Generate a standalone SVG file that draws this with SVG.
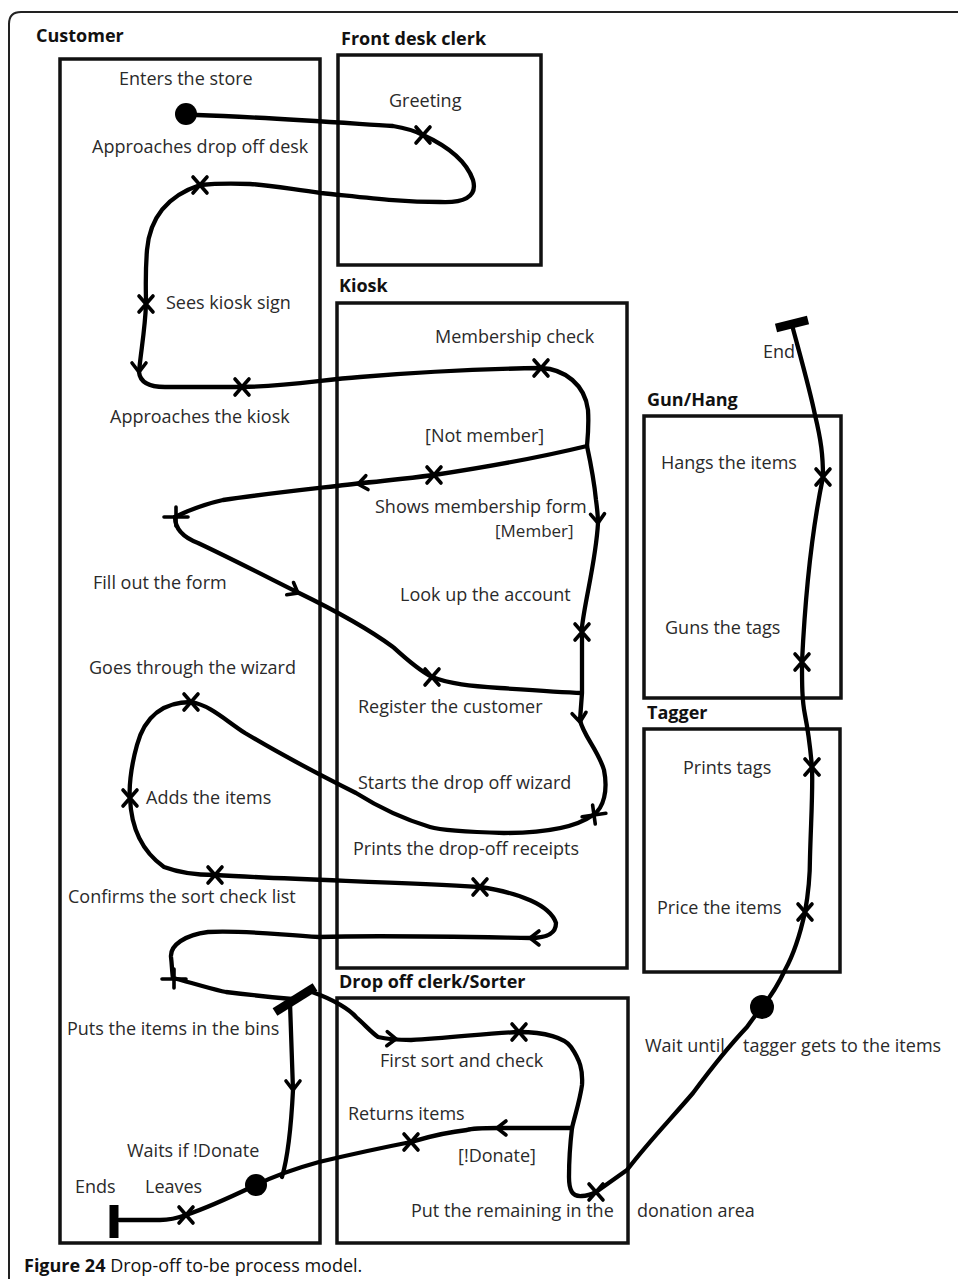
<svg xmlns="http://www.w3.org/2000/svg" xmlns:xlink="http://www.w3.org/1999/xlink" width="958" height="1279" viewBox="0 0 958 1279">
<style>
  .lane { fill: none; stroke: #111; stroke-width: 3.5; }
  .lt { font-family: "Open Sans", "Noto Sans", "DejaVu Sans", sans-serif; font-size: 18px; font-weight: bold; fill: #111; }
  .t { font-family: "Open Sans", "Noto Sans", "DejaVu Sans", sans-serif; font-size: 18px; fill: #2a2a2a; }
  .tg { font-family: "Open Sans", "Noto Sans", "DejaVu Sans", sans-serif; font-size: 17px; fill: #2a2a2a; }
  .flow { fill: none; stroke: #000; stroke-width: 4.3; stroke-linecap: round; stroke-linejoin: round; }
  .mark { fill: none; stroke: #000; stroke-width: 3.6; stroke-linecap: round; }
  .bar { stroke: #000; stroke-width: 9; stroke-linecap: butt; }
  .dot { fill: #000; }
  .cap { font-family: "Open Sans", "Noto Sans", "DejaVu Sans", sans-serif; font-size: 18px; fill: #111; }
</style>
<defs>
  <path id="x" class="mark" d="M-7,-8 L7,8 M-7,8 L7,-8"/>
  <path id="plus" class="mark" d="M-12,0 L12,0 M0,-10 L0,9"/>
  <path id="chev" class="mark" d="M-7,-9 L0,0 L7,-9"/>
</defs>
<rect width="958" height="1279" fill="#fff"/>
<path d="M9,1279 L9,24 Q9,12 21,12 L960,12" fill="none" stroke="#222" stroke-width="2"/>

<!-- lanes -->
<g id="lane-customer"><rect class="lane" x="60" y="59" width="260" height="1184"/><text class="lt" x="36" y="42">Customer</text></g>
<g id="lane-frontdesk"><rect class="lane" x="338" y="55" width="203" height="210"/><text class="lt" x="341" y="45">Front desk clerk</text></g>
<g id="lane-kiosk"><rect class="lane" x="337" y="303" width="290" height="665"/><text class="lt" x="339" y="292">Kiosk</text></g>
<g id="lane-gunhang"><rect class="lane" x="644" y="416" width="197" height="282"/><text class="lt" x="647" y="406">Gun/Hang</text></g>
<g id="lane-tagger"><rect class="lane" x="644" y="729" width="196" height="243"/><text class="lt" x="647" y="719">Tagger</text></g>
<g id="lane-dropoff"><rect class="lane" x="337" y="998" width="291" height="245"/><text class="lt" x="339" y="988">Drop off clerk/Sorter</text></g>

<!-- connectors -->
<g id="connectors">
  <path class="flow" d="M197,115 C260,117 330,122 393,126 C405,128 415,131 423,135 C445,145 466,160 473,180 C478,198 462,203 440,202 C400,202 370,198 321,193 C290,189 270,185 250,184 C225,183 210,184 200,185 C170,195 150,215 147,250 C145,275 146,290 146,304 C145,330 141,350 139,372 C140,382 148,387 165,387 L242,387 C290,386 320,380 360,377 C420,372 480,369 541,368 C565,369 585,385 588,410 C589,425 588,435 587,446"/>
  <path class="flow" d="M587,446 C550,455 500,465 434,475 C410,478 385,481 362,483 C330,487 270,493 223,500 C200,505 185,512 175,517"/>
  <path class="flow" d="M175,517 C175,530 185,538 198,543 C230,558 265,576 297,592 C330,608 370,630 393,647 C405,658 418,670 432,677 C450,684 470,686 500,688 C530,690 560,692 582,693"/>
  <path class="flow" d="M587,446 C590,460 594,480 596,500 C598,515 598,520 598,523 C596,560 585,600 582,627 L582,693 L580,720 C583,735 598,750 604,770 C608,790 604,808 593,815 C575,828 540,833 504,833 C470,832 440,830 430,827 C400,818 375,805 356,793 C330,780 290,760 245,733 C225,720 210,705 191,702 C165,702 145,715 137,745 C130,770 129,790 130,798 C131,825 140,850 164,867 C180,873 200,875 215,875 C300,880 400,882 480,887 C520,893 550,905 556,923 C556,935 545,938 530,938 C470,937 380,935 319,937 C270,934 240,930 208,932 C185,935 170,945 171,957 C172,965 172,972 173,978 C200,985 215,990 226,992 C250,995 270,997 292,999"/>
  <path class="flow" d="M312,992 C335,1000 350,1010 356,1017 C365,1025 372,1033 378,1037 C390,1040 400,1040 411,1040 C450,1038 490,1033 519,1032 C545,1032 565,1038 571,1047 C580,1060 583,1070 582,1085 C580,1100 575,1115 572,1128"/>
  <path class="flow" d="M572,1128 L498,1128 C480,1128 470,1129 467,1130 C440,1133 425,1138 411,1142 C370,1150 340,1157 319,1162 C290,1170 270,1178 256,1185"/>
  <path class="flow" d="M572,1128 C570,1145 569,1165 569,1177 C569,1190 572,1197 582,1196 C588,1196 592,1194 596,1192 C610,1182 620,1175 627,1170 C650,1140 670,1120 693,1093 C710,1070 730,1045 747,1027 C752,1020 757,1013 762,1007"/>
  <path class="flow" d="M762,1007 C772,995 778,985 785,970 C795,952 800,935 805,912 C809,890 810,870 810,857 C811,820 813,790 812,767 C810,745 808,730 805,715 C802,700 802,685 802,662 C805,600 812,530 823,477 C823,455 821,440 815,415 C810,390 800,355 792,325"/>
  <path class="flow" d="M290,1003 C291,1030 292,1060 293,1090 C291,1130 287,1160 282,1177"/>
  <path class="flow" d="M256,1185 C235,1195 210,1207 186,1215 C175,1219 168,1220 160,1220 L119,1220"/>
  <!-- arrowheads -->
  <use href="#chev" transform="translate(139,372)"/>
  <use href="#chev" transform="translate(358,484) rotate(81)"/>
  <use href="#chev" transform="translate(298,593) rotate(-61)"/>
  <use href="#chev" transform="translate(598,523) rotate(-3)"/>
  <use href="#chev" transform="translate(580,722) rotate(-6)"/>
  <use href="#chev" transform="translate(530,938) rotate(90)"/>
  <use href="#chev" transform="translate(396,1039) rotate(-88)"/>
  <use href="#chev" transform="translate(497,1128) rotate(90)"/>
  <use href="#chev" transform="translate(293,1090)"/>
</g>

<!-- nodes -->
<g id="n-enters"><circle class="dot" cx="186" cy="114" r="11"/><text class="t" x="119" y="85">Enters the store</text></g>
<g id="n-greeting"><use href="#x" transform="translate(423,135)"/><text class="t" x="389" y="107">Greeting</text></g>
<g id="n-approach-desk"><use href="#x" transform="translate(200,185)"/><text class="t" x="92" y="153">Approaches drop off desk</text></g>
<g id="n-sees-sign"><use href="#x" transform="translate(146,304)"/><text class="t" x="166" y="309">Sees kiosk sign</text></g>
<g id="n-approach-kiosk"><use href="#x" transform="translate(242,387)"/><text class="t" x="110" y="423">Approaches the kiosk</text></g>
<g id="n-membership"><use href="#x" transform="translate(541,368)"/><text class="t" x="435" y="343">Membership check</text></g>
<g id="g-not-member"><text class="t" x="425" y="442">[Not member]</text></g>
<g id="n-shows-form"><use href="#x" transform="translate(434,475)"/><text class="t" x="375" y="513">Shows membership form</text></g>
<g id="g-member"><text class="tg" x="495" y="537">[Member]</text></g>
<g id="n-fill-form"><use href="#plus" transform="translate(176,517)"/><text class="t" x="93" y="589">Fill out the form</text></g>
<g id="n-lookup"><use href="#x" transform="translate(582,632)"/><text class="t" x="400" y="601">Look up the account</text></g>
<g id="n-register"><use href="#x" transform="translate(432,677)"/><text class="t" x="358" y="713">Register the customer</text></g>
<g id="n-wizard-start"><use href="#plus" transform="translate(594,815) rotate(-8)"/><text class="t" x="358" y="789">Starts the drop off wizard</text></g>
<g id="n-goes-wizard"><use href="#x" transform="translate(191,702)"/><text class="t" x="89" y="674">Goes through the wizard</text></g>
<g id="n-adds"><use href="#x" transform="translate(130,798)"/><text class="t" x="146" y="804">Adds the items</text></g>
<g id="n-confirms"><use href="#x" transform="translate(215,875)"/><text class="t" x="68" y="903">Confirms the sort check list</text></g>
<g id="n-prints-receipts"><use href="#x" transform="translate(480,887)"/><text class="t" x="353" y="855">Prints the drop-off receipts</text></g>
<g id="n-puts-bins"><use href="#plus" transform="translate(174,979)"/><text class="t" x="67" y="1035">Puts the items in the bins</text></g>
<g id="n-fork"><line class="bar" x1="275" y1="1012" x2="315" y2="987"/></g>
<g id="n-first-sort"><use href="#x" transform="translate(519,1032)"/><text class="t" x="380" y="1067">First sort and check</text></g>
<g id="n-returns"><use href="#x" transform="translate(411,1142)"/><text class="t" x="348" y="1120">Returns items</text></g>
<g id="g-not-donate"><text class="t" x="458" y="1162">[!Donate]</text></g>
<g id="n-put-remaining"><use href="#x" transform="translate(596,1192)"/><text class="t" x="411" y="1217">Put the remaining in the<tspan x="637">donation area</tspan></text></g>
<g id="n-wait-tagger"><circle class="dot" cx="762" cy="1007" r="12"/><text class="t" x="645" y="1052">Wait until<tspan x="743">tagger gets to the items</tspan></text></g>
<g id="n-price"><use href="#x" transform="translate(805,912)"/><text class="t" x="657" y="914">Price the items</text></g>
<g id="n-prints-tags"><use href="#x" transform="translate(812,767)"/><text class="t" x="683" y="774">Prints tags</text></g>
<g id="n-guns"><use href="#x" transform="translate(802,662)"/><text class="t" x="665" y="634">Guns the tags</text></g>
<g id="n-hangs"><use href="#x" transform="translate(823,477)"/><text class="t" x="661" y="469">Hangs the items</text></g>
<g id="n-end"><line class="bar" x1="776" y1="328" x2="808" y2="320"/><text class="t" x="763" y="358">End</text></g>
<g id="n-waits"><circle class="dot" cx="256" cy="1185" r="11"/><text class="t" x="127" y="1157">Waits if !Donate</text></g>
<g id="n-leaves"><use href="#x" transform="translate(186,1215)"/><text class="t" x="145" y="1193">Leaves</text></g>
<g id="n-ends"><line class="bar" x1="114" y1="1205" x2="114" y2="1238"/><text class="t" x="75" y="1193">Ends</text></g>

<text class="cap" x="24" y="1272"><tspan font-weight="bold">Figure 24</tspan> Drop-off to-be process model.</text>
</svg>
